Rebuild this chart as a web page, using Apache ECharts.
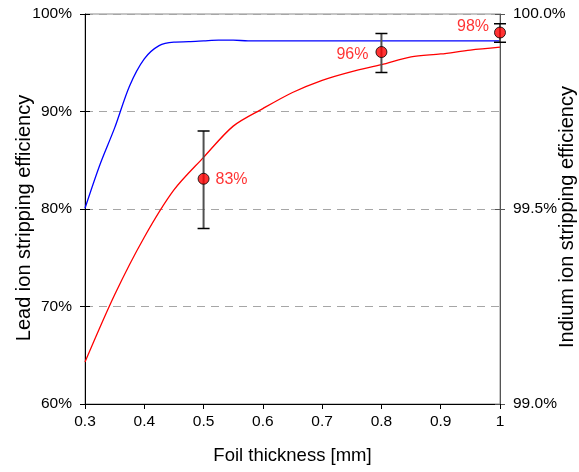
<!DOCTYPE html>
<html>
<head>
<meta charset="utf-8">
<script src="https://cdn.jsdelivr.net/npm/echarts@6/dist/echarts.min.js"></script>
<style>
html,body{margin:0;padding:0;background:#fff;}
#chart{width:579px;height:472px;}
</style>
</head>
<body>
<div id="chart"></div>
<script>
// ---- data ----
var xTicks = [0.3, 0.4, 0.5, 0.6, 0.7, 0.8, 0.9, 1.0];
var leftTicks = [60, 70, 80, 90, 100];
var rightTicks = [99.0, 99.5, 100.0];

var thicknessIndium = [0.3, 0.325, 0.35, 0.375, 0.4, 0.425, 0.45, 0.475, 0.5, 0.525, 0.55, 0.575, 0.6, 0.7, 0.8, 0.9, 1.0];
var indiumEff = [99.502, 99.613, 99.708, 99.815, 99.885, 99.919, 99.928, 99.929, 99.931, 99.933, 99.933, 99.931, 99.931, 99.931, 99.931, 99.931, 99.931];

var thicknessLead = [0.3, 0.35, 0.4, 0.45, 0.5, 0.55, 0.6, 0.65, 0.7, 0.75, 0.8, 0.85, 0.9, 0.95, 1.0];
var leadEff = [64.3, 71.2, 77.1, 81.95, 85.3, 88.5, 90.3, 91.95, 93.2, 94.1, 94.8, 95.6, 95.9, 96.3, 96.6];

var measX = [0.5, 0.8, 1.0];
var measVal = [83.1, 96.1, 98.1];
var measLow = [78, 94, 97.1];
var measHigh = [88, 98, 99];
var measLabels = ['83%', '96%', '98%'];

// ---- build ----
var FONT = 'Liberation Sans, Arial, sans-serif';
var chart = echarts.init(document.getElementById('chart'), null, {renderer: 'canvas'});

function zip(a, b) { return a.map(function (v, i) { return [v, b[i]]; }); }

var labelPos = [
  {position: 'right', distance: 6, offset: [0, 1]},
  {position: 'left', distance: 7, offset: [0, 3]},
  {position: 'left', distance: 5, offset: [0, -6]}
];

var measData = measX.map(function (x, i) {
  return {
    value: [x, measVal[i]],
    label: Object.assign({show: true, formatter: measLabels[i]}, labelPos[i])
  };
});

var errData = measX.map(function (x, i) { return [x, measLow[i], measHigh[i]]; });

var option = {
  animation: false,
  backgroundColor: '#ffffff',
  grid: {left: 85, right: 79, top: 14, bottom: 68, show: true, borderColor: '#8c8c8c', borderWidth: 1,
    backgroundColor: 'transparent', containLabel: false, outerBoundsMode: 'none'},
  xAxis: {
    type: 'value', min: 0.3, max: 1.0, interval: 0.1,
    name: 'Foil thickness [mm]', nameLocation: 'middle', nameGap: 42, nameMoveOverlap: false,
    nameTextStyle: {fontFamily: FONT, fontSize: 18.5, color: '#000'},
    axisLine: {show: true, onZero: false, lineStyle: {color: '#000', width: 1}},
    axisTick: {show: true, length: 5, lineStyle: {color: '#000'}},
    axisLabel: {fontFamily: FONT, fontSize: 15.5, color: '#000', margin: 10,
      formatter: function (v) { return String(+v.toFixed(1)); }},
    splitLine: {show: false}
  },
  yAxis: [
    {
      type: 'value', min: 60, max: 100, interval: 10, position: 'left',
      name: 'Lead ion stripping efficiency', nameLocation: 'middle', nameGap: 51, nameMoveOverlap: false,
      nameTextStyle: {fontFamily: FONT, fontSize: 20, color: '#000', padding: [0, 18, 0, 0]},
      axisLine: {show: true, lineStyle: {color: '#000', width: 1}},
      axisTick: {show: true, length: 5, lineStyle: {color: '#000'}},
      axisLabel: {fontFamily: FONT, fontSize: 15.5, color: '#000', margin: 13,
        formatter: function (v) { return v + '%'; }},
      splitLine: {show: true, lineStyle: {color: '#a6a6a6', type: [8, 6], width: 1}}
    },
    {
      type: 'value', min: 99.0, max: 100.0, interval: 0.5, position: 'right',
      name: 'Indium ion stripping efficiency', nameLocation: 'middle', nameGap: 57, nameMoveOverlap: false,
      nameRotate: 90,
      nameTextStyle: {fontFamily: FONT, fontSize: 20, color: '#000', padding: [0, 16, 0, 0]},
      axisLine: {show: true, lineStyle: {color: '#555', width: 1}},
      axisTick: {show: true, length: 5, lineStyle: {color: '#555'}},
      axisLabel: {fontFamily: FONT, fontSize: 15.5, color: '#000', margin: 13,
        formatter: function (v) { return v.toFixed(1) + '%'; }},
      splitLine: {show: false}
    },
    {
      type: 'value', min: 60, max: 100, interval: 10, position: 'left', offset: 0,
      axisLine: {show: false}, axisLabel: {show: false}, splitLine: {show: false},
      axisTick: {show: true, inside: true, length: 5, lineStyle: {color: '#000'}}
    },
    {
      type: 'value', min: 99.0, max: 100.0, interval: 0.5, position: 'right', offset: 0,
      axisLine: {show: false}, axisLabel: {show: false}, splitLine: {show: false},
      axisTick: {show: true, inside: true, length: 5, lineStyle: {color: '#555'}}
    }
  ],
  series: [
    {
      type: 'line', yAxisIndex: 1, data: zip(thicknessIndium, indiumEff),
      symbol: 'none', smooth: 0.3, lineStyle: {color: '#0000ff', width: 1.3}, z: 3
    },
    {
      type: 'line', yAxisIndex: 0, data: zip(thicknessLead, leadEff),
      symbol: 'none', smooth: 0.3, lineStyle: {color: '#ff0000', width: 1.3}, z: 3
    },
    {
      type: 'custom', yAxisIndex: 0, data: errData, z: 4,
      renderItem: function (params, api) {
        var x = api.value(0);
        var lo = api.coord([x, api.value(1)]);
        var hi = api.coord([x, api.value(2)]);
        var hw = 6;
        return {
          type: 'group',
          children: [
            {type: 'line', shape: {x1: lo[0], y1: lo[1], x2: hi[0], y2: hi[1]},
              style: {stroke: '#505050', lineWidth: 2}},
            {type: 'line', shape: {x1: lo[0] - hw, y1: lo[1], x2: lo[0] + hw, y2: lo[1]},
              style: {stroke: '#000', lineWidth: 1.5}},
            {type: 'line', shape: {x1: hi[0] - hw, y1: hi[1], x2: hi[0] + hw, y2: hi[1]},
              style: {stroke: '#000', lineWidth: 1.5}}
          ]
        };
      }
    },
    {
      type: 'scatter', yAxisIndex: 0, data: measData, z: 5,
      symbol: 'circle', symbolSize: 11,
      itemStyle: {color: '#ff0000', borderColor: '#000', borderWidth: 1},
      label: {color: '#ff0000', fontFamily: FONT, fontSize: 16}
    }
  ]
};
chart.setOption(option);
</script>
</body>
</html>
